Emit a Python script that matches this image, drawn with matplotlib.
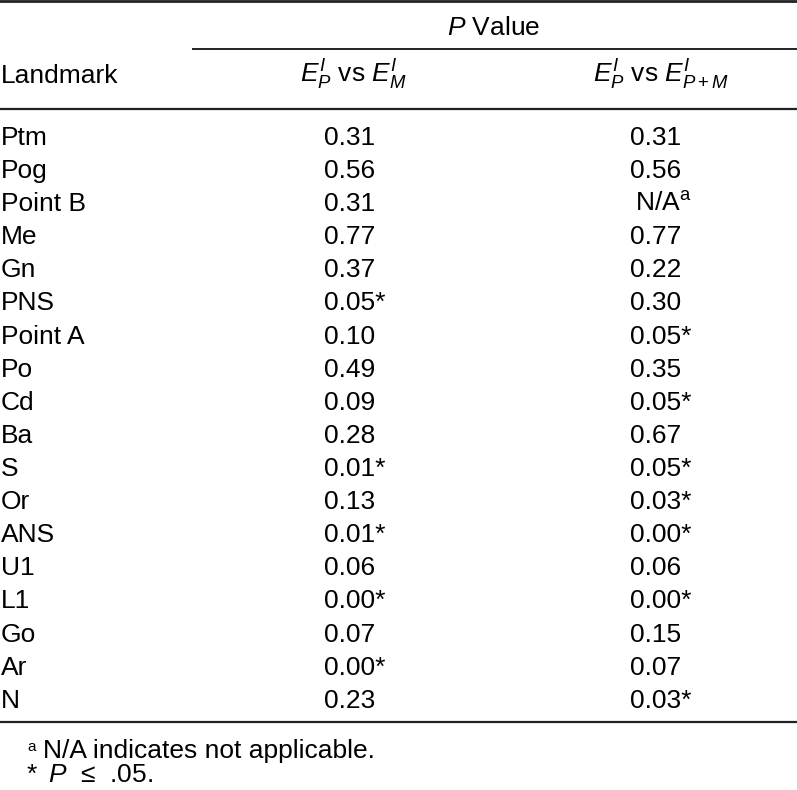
import matplotlib
matplotlib.use('Agg')
import matplotlib.pyplot as plt

plt.rcParams['font.family'] = ['Liberation Sans', 'DejaVu Sans']
plt.rcParams['mathtext.fontset'] = 'custom'
plt.rcParams['mathtext.rm'] = 'Liberation Sans'
plt.rcParams['mathtext.it'] = 'Liberation Sans:italic'
plt.rcParams['mathtext.bf'] = 'Liberation Sans:bold'

landmarks = ['Ptm', 'Pog', 'Point B', 'Me', 'Gn', 'PNS', 'Point A', 'Po', 'Cd',
             'Ba', 'S', 'Or', 'ANS', 'U1', 'L1', 'Go', 'Ar', 'N']
p_vs_m = [0.31, 0.56, 0.31, 0.77, 0.37, 0.05, 0.10, 0.49, 0.09,
          0.28, 0.01, 0.13, 0.01, 0.06, 0.00, 0.07, 0.00, 0.23]
p_vs_pm = [0.31, 0.56, None, 0.77, 0.22, 0.30, 0.05, 0.35, 0.05,
           0.67, 0.05, 0.03, 0.00, 0.06, 0.00, 0.15, 0.07, 0.03]
alpha = 0.05

col_heads = [r'$E^{I}_{P}$ vs $E^{I}_{M}$', r'$E^{I}_{P}$ vs $E^{I}_{P+M}$']


def fmt(v):
    if v is None:
        return r'N/A$^{\mathrm{a}}$'
    s = f'{v:.2f}'
    if v <= alpha:
        s += '*'
    return s


W, H = 797, 790
fig = plt.figure(figsize=(W / 100, H / 100), dpi=100)
ax = fig.add_axes([0, 0, 1, 1])
ax.set_xlim(0, W)
ax.set_ylim(H, 0)
ax.axis('off')

fs = 19
lc = '#222222'

# rules
ax.plot([0, W], [1, 1], color=lc, lw=2.0)
ax.plot([193, W], [49, 49], color=lc, lw=1.4)
ax.plot([0, W], [109, 109], color=lc, lw=1.6)
ax.plot([0, W], [722, 722], color=lc, lw=1.6)

# header
ax.text(494, 35, r'$P$ Value', fontsize=fs, ha='center', va='baseline')
ax.text(1, 83, 'Landmark', fontsize=fs, ha='left', va='baseline')
ax.text(353, 83, col_heads[0], fontsize=fs, ha='center', va='baseline')
ax.text(661, 83, col_heads[1], fontsize=fs, ha='center', va='baseline')

# body
y0, step = 145, 33.1
for i, name in enumerate(landmarks):
    y = y0 + i * step
    ax.text(1, y, name, fontsize=fs, ha='left', va='baseline')
    ax.text(324, y, fmt(p_vs_m[i]), fontsize=fs, ha='left', va='baseline')
    x2 = 635 if p_vs_pm[i] is None else 630
    ax.text(x2, y, fmt(p_vs_pm[i]), fontsize=fs, ha='left', va='baseline')

# footnotes
ax.text(27, 751, 'a', fontsize=11, ha='left', va='baseline')
ax.text(43, 758, 'N/A indicates not applicable.', fontsize=fs, ha='left', va='baseline')
ax.text(27, 782, '*', fontsize=fs, ha='left', va='baseline')
ax.text(48, 782, '$P$  \u2264  .05.', fontsize=fs, ha='left', va='baseline')

fig.savefig('out.png', dpi=100, facecolor='white')
